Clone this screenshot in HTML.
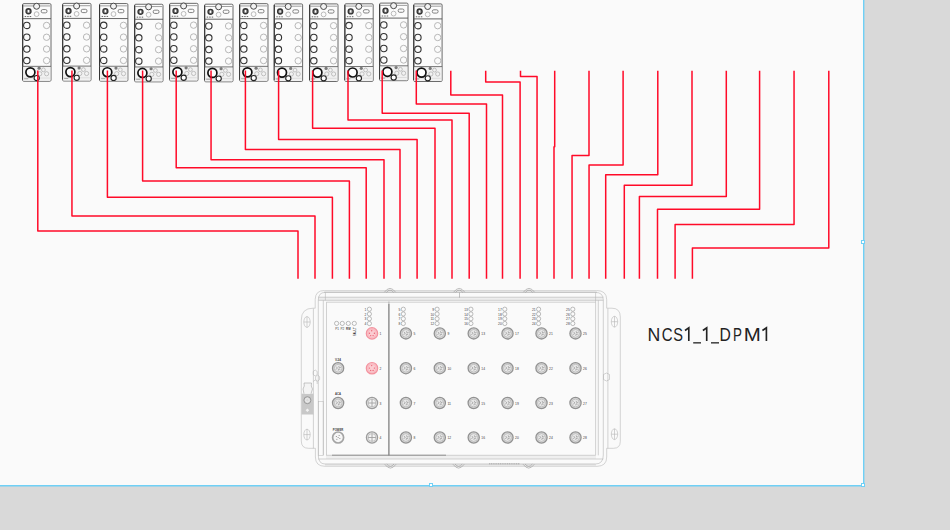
<!DOCTYPE html>
<html><head><meta charset="utf-8"><style>
html,body{margin:0;padding:0;width:950px;height:530px;overflow:hidden;background:#d9d9d9}
svg{display:block;font-family:"Liberation Sans",sans-serif}
</style></head><body>
<svg width="950" height="530" viewBox="0 0 950 530">
<defs>
<g id="mod">
 <rect x="0.4" y="0.4" width="28.4" height="77.6" rx="1.2" fill="#fbfbfb" stroke="#5a5a5a" stroke-width="0.9"/>
 <line x1="0.5" y1="1.5" x2="0.5" y2="76.5" stroke="#333" stroke-width="1.1"/>
 <rect x="1" y="63.5" width="27.2" height="14" fill="#f1f1f1"/>
 <line x1="1" y1="2.7" x2="27.8" y2="2.7" stroke="#777" stroke-width="0.7"/>
 <line x1="0.4" y1="15.4" x2="28.8" y2="15.4" stroke="#555" stroke-width="0.9"/>
 <line x1="0.4" y1="63.1" x2="28.8" y2="63.1" stroke="#666" stroke-width="0.9"/>
 <line x1="1.5" y1="74.8" x2="27.5" y2="74.8" stroke="#c8c8c8" stroke-width="0.5"/>
 <circle cx="14.4" cy="3.0" r="3.0" fill="#f2f2f2" stroke="#4a4a4a" stroke-width="1"/>
 <circle cx="6.3" cy="8.0" r="2.5" fill="#8a8a8a" stroke="#333" stroke-width="1.3"/>
 <rect x="5.7" y="6.8" width="1.2" height="2.3" fill="#fff"/>
 <circle cx="14.4" cy="10.9" r="2.4" fill="none" stroke="#aaa" stroke-width="0.8"/>
 <rect x="19" y="6.3" width="5.8" height="3.3" rx="1.5" fill="none" stroke="#666" stroke-width="0.8"/>
 <path d="M2.5 13.3h1.5M5 13.3h1.5M7.5 13.3h1.5" stroke="#555" stroke-width="0.9"/>
 <g fill="none" stroke="#333" stroke-width="1.1">
  <circle cx="4.6" cy="22.2" r="3.2"/><circle cx="4.6" cy="34.0" r="3.2"/><circle cx="4.6" cy="45.8" r="3.2"/><circle cx="4.6" cy="57.3" r="3.2"/>
 </g>
 <g fill="none" stroke="#b0b0b0" stroke-width="0.9">
  <circle cx="24.4" cy="22.2" r="3.2"/><circle cx="24.4" cy="34.0" r="3.2"/><circle cx="24.4" cy="45.8" r="3.2"/><circle cx="24.4" cy="57.3" r="3.2"/>
 </g>
 <circle cx="8.2" cy="69.1" r="4.5" fill="#fff" stroke="#111" stroke-width="1.7"/>
 <circle cx="16.9" cy="64.9" r="1.6" fill="#7a7a7a"/>
 <g fill="#f2f2f2" stroke="#aaa" stroke-width="0.7">
  <circle cx="21.2" cy="66.6" r="1.9"/><circle cx="17.6" cy="70.5" r="2.1"/><circle cx="24.4" cy="70.5" r="2.1"/>
 </g>
 <circle cx="14.5" cy="74.8" r="2.6" fill="#fff" stroke="#222" stroke-width="1.1"/>
 <path d="M2 75.5h4" stroke="#888" stroke-width="0.7"/>
</g></defs>
<rect x="0" y="0" width="950" height="530" fill="#d9d9d9"/>
<rect x="0" y="0" width="863" height="485" fill="#fafafa"/>
<use href="#mod" x="22.2" y="3.25"/><use href="#mod" x="62.2" y="3"/><use href="#mod" x="99.1" y="3.15"/><use href="#mod" x="134.2" y="3.85"/><use href="#mod" x="169.2" y="2.95"/><use href="#mod" x="204.2" y="3.8"/><use href="#mod" x="239.2" y="3.25"/><use href="#mod" x="273.8" y="3.5"/><use href="#mod" x="309.2" y="3.5"/><use href="#mod" x="344.4" y="3.4"/><use href="#mod" x="379.2" y="2.7"/><use href="#mod" x="413.3" y="3.5"/>
<g fill="none" stroke="#ff0a28" stroke-width="1.5" stroke-linejoin="round">
<path d="M37.8 70.5V231H298V278.8"/>
<path d="M71.95 70.5V215.9H315V278.8"/>
<path d="M107.4 70.5V197.2H332.4V278.8"/>
<path d="M142.6 70.5V180.9H349.4V278.8"/>
<path d="M176.2 70.5V167.8H366.2V278.8"/>
<path d="M211.05 70.5V159.65H384V278.8"/>
<path d="M245.4 70.5V149.6H400V278.8"/>
<path d="M278.6 70.5V139.5H417.1V278.8"/>
<path d="M312.6 70.5V128.3H435V278.8"/>
<path d="M348 70.5V120.05H452V278.8"/>
<path d="M382.2 70.5V113.2H469.2V278.8"/>
<path d="M416.3 70.5V103.9H486.5V278.8"/>
<path d="M450.8 70.8V95H502.5V278.8"/>
<path d="M485.7 70.8V81.95H520.1V278.8"/>
<path d="M520.5 70.8V76.45H537.05V278.8"/>
<path d="M554.7 70.8V146.8H554V278.8"/>
<path d="M589 70.8V155.5H572.05V278.8"/>
<path d="M623.1 70.8V165H589.05V278.8"/>
<path d="M657.8 70.8V174.8H605.7V278.8"/>
<path d="M692 70.8V185.35H624.3V278.8"/>
<path d="M726.3 70.8V196.5H639.4V278.8"/>
<path d="M759.6 70.8V209.3H657.5V278.8"/>
<path d="M794.05 70.8V224.4H675.1V278.8"/>
<path d="M828.8 70.8V248H692.4V278.8"/>
</g>

<path d="M324.5 290.5 H596.5 Q606.7 290.5 606.7 299.7 V308.2 H612 Q620.3 308.2 620.3 317 V441.5 Q620.3 448.3 613.5 448.3 H606.7 V457 Q606.7 466.3 597 466.3 H325 Q315.4 466.3 315.4 457 V448.3 H308.5 Q301.3 448.3 301.3 441 V320 Q301.3 308.2 313 308.2 H315.2 V299.5 Q315.2 290.5 324.5 290.5 Z" fill="#fafafa" stroke="#b8b8b8" stroke-width="0.6"/>
<rect x="324" y="290.7" width="273" height="2.3" fill="#e6e6e6"/><line x1="324" y1="292.5" x2="597" y2="292.5" stroke="#d2d2d2" stroke-width="0.7"/>
<rect x="318.3" y="297.2" width="284.5" height="3.1" fill="#ededed"/>
<rect x="325" y="463.8" width="271" height="2.3" fill="#e6e6e6"/>
<rect x="326" y="455.3" width="270" height="3.6" fill="#efefef"/>
<g fill="none" stroke="#b5b5b5" stroke-width="0.6">
 <path d="M318.3 455 V300.3 Q318.3 292.4 325 292.4 H595.4 Q603.3 292.4 603.3 300 V455 M318.3 455 Q318.3 464 325 464 H595.4 Q603.3 464 603.3 455"/>
 <path d="M318.3 297.2 H603.3 M318.3 300.3 H603.3"/>
 <path d="M326.3 302.2 H595.6 M326.5 302.2 V455.3 M595.6 292.4 V455.3 M323.3 300.3 V455.3 M598.3 300.3 V455.3 M325.4 292.4 V300.3"/>
 <path d="M326.3 455.3 H595.6 M318.3 459 H603.3"/>
 <path d="M313.4 308.5 V448.3 M607.9 308.5 V448.3"/>
 <ellipse cx="307" cy="322" rx="3.2" ry="5.4"/><path d="M303.8 322h6.4M307 316.6v10.8"/>
 <ellipse cx="307" cy="434.6" rx="3.2" ry="5.4"/><path d="M303.8 434.6h6.4M307 429.2v10.8"/>
 <ellipse cx="614.5" cy="321.7" rx="3.2" ry="5.4"/><path d="M611.3 321.7h6.4M614.5 316.3v10.8"/>
 <ellipse cx="614.5" cy="434.2" rx="3.2" ry="5.4"/><path d="M611.3 434.2h6.4M614.5 428.8v10.8"/>
 
</g>
<g fill="none" stroke="#8c8c8c" stroke-width="0.55">
 <path d="M384.4 292.2 Q390.0 284.6 395.6 292.2"/><path d="M386.4 292.4 Q390.0 287.8 393.6 292.4"/><path d="M453.6 292.2 Q459.2 284.6 464.8 292.2"/><path d="M455.6 292.4 Q459.2 287.8 462.8 292.4"/><path d="M523.4 292.2 Q529.0 284.6 534.6 292.2"/><path d="M525.4 292.4 Q529.0 287.8 532.6 292.4"/>
 <path d="M384.8 464.3 Q390.4 471.9 396.0 464.3"/><path d="M386.8 464.1 Q390.4 468.7 394.0 464.1"/><path d="M453.0 464.3 Q458.6 471.9 464.2 464.3"/><path d="M455.0 464.1 Q458.6 468.7 462.2 464.1"/><path d="M523.1 464.3 Q528.7 471.9 534.3 464.3"/><path d="M525.1 464.1 Q528.7 468.7 532.3 464.1"/>
</g>
<rect x="301.5" y="393.7" width="12.1" height="20.8" fill="#c8c8c8"/>
<path d="M304 393.7 L303 389 Q305 386 304 383 H311.5 Q310.5 386 312.5 389 L311 393.7" fill="#f4f4f4" stroke="#9a9a9a" stroke-width="0.55"/>
<circle cx="307.4" cy="400.2" r="3.5" fill="#d8d8d8" stroke="#8a8a8a" stroke-width="0.8"/>
<circle cx="307.4" cy="400.2" r="1.8" fill="none" stroke="#f0f0f0" stroke-width="0.7"/>
<path d="M307.4 408.4l1.8 1.8-1.8 1.8-1.8-1.8z" fill="#f2f2f2"/>
<path d="M313.2 371.5 l2 -1.5 2 1.5 v3 l-2 1.5 -2 -1.5z M315.6 376.6 l2 -1.5 2 1.5 v3 l-2 1.5 -2 -1.5z M313.2 381.5 l2 -1.5 2 1.5 v2.5" fill="none" stroke="#aaa" stroke-width="0.5"/>
<rect x="318.6" y="401.5" width="4.6" height="53.8" fill="none" stroke="#b5b5b5" stroke-width="0.5"/>
<path d="M603.5 374.5 l3 -1.5 3 1.5 v5 l-3 1.5 -3 -1.5z" fill="none" stroke="#aaa" stroke-width="0.5"/>
<line x1="459.5" y1="292.6" x2="459.5" y2="297.6" stroke="#888" stroke-width="0.5"/>
<line x1="388.9" y1="301.6" x2="388.9" y2="304" stroke="#bbb" stroke-width="1.2"/><line x1="388.9" y1="304" x2="388.9" y2="455.4" stroke="#777" stroke-width="1.2"/>
<line x1="332" y1="455.2" x2="446" y2="455.2" stroke="#8a8a8a" stroke-width="0.9"/>
<line x1="489" y1="463.8" x2="520" y2="463.8" stroke="#999" stroke-width="0.8" stroke-dasharray="1.2 0.6"/>
<circle cx="336.6" cy="323.4" r="2.1" fill="#fbfbfb" stroke="#7c7c7c" stroke-width="0.5"/><circle cx="342.3" cy="323.4" r="2.1" fill="#fbfbfb" stroke="#7c7c7c" stroke-width="0.5"/><circle cx="348.3" cy="323.4" r="2.1" fill="#fbfbfb" stroke="#7c7c7c" stroke-width="0.5"/><circle cx="354.3" cy="323.4" r="2.1" fill="#fbfbfb" stroke="#7c7c7c" stroke-width="0.5"/><circle cx="369.4" cy="309.2" r="2.1" fill="#fbfbfb" stroke="#7c7c7c" stroke-width="0.5"/><circle cx="369.4" cy="313.97" r="2.1" fill="#fbfbfb" stroke="#7c7c7c" stroke-width="0.5"/><circle cx="369.4" cy="318.74" r="2.1" fill="#fbfbfb" stroke="#7c7c7c" stroke-width="0.5"/><circle cx="369.4" cy="323.51" r="2.1" fill="#fbfbfb" stroke="#7c7c7c" stroke-width="0.5"/><circle cx="403.3" cy="309.2" r="2.1" fill="#fbfbfb" stroke="#7c7c7c" stroke-width="0.5"/><circle cx="403.3" cy="313.97" r="2.1" fill="#fbfbfb" stroke="#7c7c7c" stroke-width="0.5"/><circle cx="403.3" cy="318.74" r="2.1" fill="#fbfbfb" stroke="#7c7c7c" stroke-width="0.5"/><circle cx="403.3" cy="323.51" r="2.1" fill="#fbfbfb" stroke="#7c7c7c" stroke-width="0.5"/><circle cx="437.1" cy="309.2" r="2.1" fill="#fbfbfb" stroke="#7c7c7c" stroke-width="0.5"/><circle cx="437.1" cy="313.97" r="2.1" fill="#fbfbfb" stroke="#7c7c7c" stroke-width="0.5"/><circle cx="437.1" cy="318.74" r="2.1" fill="#fbfbfb" stroke="#7c7c7c" stroke-width="0.5"/><circle cx="437.1" cy="323.51" r="2.1" fill="#fbfbfb" stroke="#7c7c7c" stroke-width="0.5"/><circle cx="470.9" cy="309.2" r="2.1" fill="#fbfbfb" stroke="#7c7c7c" stroke-width="0.5"/><circle cx="470.9" cy="313.97" r="2.1" fill="#fbfbfb" stroke="#7c7c7c" stroke-width="0.5"/><circle cx="470.9" cy="318.74" r="2.1" fill="#fbfbfb" stroke="#7c7c7c" stroke-width="0.5"/><circle cx="470.9" cy="323.51" r="2.1" fill="#fbfbfb" stroke="#7c7c7c" stroke-width="0.5"/><circle cx="504.8" cy="309.2" r="2.1" fill="#fbfbfb" stroke="#7c7c7c" stroke-width="0.5"/><circle cx="504.8" cy="313.97" r="2.1" fill="#fbfbfb" stroke="#7c7c7c" stroke-width="0.5"/><circle cx="504.8" cy="318.74" r="2.1" fill="#fbfbfb" stroke="#7c7c7c" stroke-width="0.5"/><circle cx="504.8" cy="323.51" r="2.1" fill="#fbfbfb" stroke="#7c7c7c" stroke-width="0.5"/><circle cx="538.6" cy="309.2" r="2.1" fill="#fbfbfb" stroke="#7c7c7c" stroke-width="0.5"/><circle cx="538.6" cy="313.97" r="2.1" fill="#fbfbfb" stroke="#7c7c7c" stroke-width="0.5"/><circle cx="538.6" cy="318.74" r="2.1" fill="#fbfbfb" stroke="#7c7c7c" stroke-width="0.5"/><circle cx="538.6" cy="323.51" r="2.1" fill="#fbfbfb" stroke="#7c7c7c" stroke-width="0.5"/><circle cx="572.8" cy="309.2" r="2.1" fill="#fbfbfb" stroke="#7c7c7c" stroke-width="0.5"/><circle cx="572.8" cy="313.97" r="2.1" fill="#fbfbfb" stroke="#7c7c7c" stroke-width="0.5"/><circle cx="572.8" cy="318.74" r="2.1" fill="#fbfbfb" stroke="#7c7c7c" stroke-width="0.5"/><circle cx="572.8" cy="323.51" r="2.1" fill="#fbfbfb" stroke="#7c7c7c" stroke-width="0.5"/><circle cx="338.1" cy="368.2" r="5.6" fill="#d9d9d9" stroke="#929292" stroke-width="1.3"/><circle cx="338.1" cy="368.2" r="3.9" fill="#e8e8e8" stroke="#b2b2b2" stroke-width="0.7"/><path d="M336.1 366.6l1.4 1.6-1.8 1.2M338.7 366l0.6 1.8 1.6-0.4M338.3 370.6l0.4-1.6 1.6 0.4" stroke="#8a8a8a" stroke-width="0.6" fill="none"/><circle cx="338.1" cy="403" r="5.6" fill="#d9d9d9" stroke="#929292" stroke-width="1.3"/><circle cx="338.1" cy="403" r="3.9" fill="#e8e8e8" stroke="#b2b2b2" stroke-width="0.7"/><path d="M336.1 401.4l1.4 1.6-1.8 1.2M338.7 400.8l0.6 1.8 1.6-0.4M338.3 405.4l0.4-1.6 1.6 0.4" stroke="#8a8a8a" stroke-width="0.6" fill="none"/><circle cx="338.1" cy="437.5" r="5.5" fill="#f6f6f6" stroke="#a4a4a4" stroke-width="1.7"/><g fill="#777"><circle cx="336.3" cy="436.5" r="0.5"/><circle cx="339.1" cy="435.5" r="0.5"/><circle cx="338.1" cy="437.5" r="0.5"/><circle cx="336.9" cy="439.3" r="0.5"/><circle cx="339.9" cy="438.5" r="0.5"/></g><circle cx="372" cy="333.4" r="5.7" fill="#f9bfc6" stroke="#f3939f" stroke-width="1.2"/><circle cx="372" cy="333.4" r="4" fill="#fbcdd2" stroke="#f7b0b8" stroke-width="0.6"/><g fill="#ec6575"><circle cx="371.7" cy="330.8" r="0.7"/><circle cx="369.4" cy="333.3" r="0.7"/><circle cx="374.4" cy="333.3" r="0.7"/><circle cx="370.7" cy="335.6" r="0.7"/><circle cx="373.1" cy="335.6" r="0.7"/></g><circle cx="372" cy="368.2" r="5.7" fill="#f9bfc6" stroke="#f3939f" stroke-width="1.2"/><circle cx="372" cy="368.2" r="4" fill="#fbcdd2" stroke="#f7b0b8" stroke-width="0.6"/><g fill="#ec6575"><circle cx="371.7" cy="365.6" r="0.7"/><circle cx="369.4" cy="368.1" r="0.7"/><circle cx="374.4" cy="368.1" r="0.7"/><circle cx="370.7" cy="370.4" r="0.7"/><circle cx="373.1" cy="370.4" r="0.7"/></g><circle cx="372" cy="403" r="5.6" fill="#e4e4e4" stroke="#9c9c9c" stroke-width="1.3"/><circle cx="372" cy="403" r="3.9" fill="#f4f4f4" stroke="#b4b4b4" stroke-width="0.7"/><path d="M368.1 403h7.8M372 399.1v7.8" stroke="#a0a0a0" stroke-width="0.9"/><circle cx="372" cy="437.5" r="5.6" fill="#e4e4e4" stroke="#9c9c9c" stroke-width="1.3"/><circle cx="372" cy="437.5" r="3.9" fill="#f4f4f4" stroke="#b4b4b4" stroke-width="0.7"/><path d="M368.1 437.5h7.8M372 433.6v7.8" stroke="#a0a0a0" stroke-width="0.9"/><circle cx="405.9" cy="333.4" r="5.6" fill="#d9d9d9" stroke="#929292" stroke-width="1.3"/><circle cx="405.9" cy="333.4" r="3.9" fill="#e8e8e8" stroke="#b2b2b2" stroke-width="0.7"/><path d="M403.9 331.8l1.4 1.6-1.8 1.2M406.5 331.2l0.6 1.8 1.6-0.4M406.1 335.8l0.4-1.6 1.6 0.4" stroke="#8a8a8a" stroke-width="0.6" fill="none"/><circle cx="405.9" cy="368.2" r="5.6" fill="#d9d9d9" stroke="#929292" stroke-width="1.3"/><circle cx="405.9" cy="368.2" r="3.9" fill="#e8e8e8" stroke="#b2b2b2" stroke-width="0.7"/><path d="M403.9 366.6l1.4 1.6-1.8 1.2M406.5 366l0.6 1.8 1.6-0.4M406.1 370.6l0.4-1.6 1.6 0.4" stroke="#8a8a8a" stroke-width="0.6" fill="none"/><circle cx="405.9" cy="403" r="5.6" fill="#d9d9d9" stroke="#929292" stroke-width="1.3"/><circle cx="405.9" cy="403" r="3.9" fill="#e8e8e8" stroke="#b2b2b2" stroke-width="0.7"/><path d="M403.9 401.4l1.4 1.6-1.8 1.2M406.5 400.8l0.6 1.8 1.6-0.4M406.1 405.4l0.4-1.6 1.6 0.4" stroke="#8a8a8a" stroke-width="0.6" fill="none"/><circle cx="405.9" cy="437.5" r="5.6" fill="#d9d9d9" stroke="#929292" stroke-width="1.3"/><circle cx="405.9" cy="437.5" r="3.9" fill="#e8e8e8" stroke="#b2b2b2" stroke-width="0.7"/><path d="M403.9 435.9l1.4 1.6-1.8 1.2M406.5 435.3l0.6 1.8 1.6-0.4M406.1 439.9l0.4-1.6 1.6 0.4" stroke="#8a8a8a" stroke-width="0.6" fill="none"/><circle cx="439.8" cy="333.4" r="5.6" fill="#d9d9d9" stroke="#929292" stroke-width="1.3"/><circle cx="439.8" cy="333.4" r="3.9" fill="#e8e8e8" stroke="#b2b2b2" stroke-width="0.7"/><path d="M437.8 331.8l1.4 1.6-1.8 1.2M440.4 331.2l0.6 1.8 1.6-0.4M440 335.8l0.4-1.6 1.6 0.4" stroke="#8a8a8a" stroke-width="0.6" fill="none"/><circle cx="439.8" cy="368.2" r="5.6" fill="#d9d9d9" stroke="#929292" stroke-width="1.3"/><circle cx="439.8" cy="368.2" r="3.9" fill="#e8e8e8" stroke="#b2b2b2" stroke-width="0.7"/><path d="M437.8 366.6l1.4 1.6-1.8 1.2M440.4 366l0.6 1.8 1.6-0.4M440 370.6l0.4-1.6 1.6 0.4" stroke="#8a8a8a" stroke-width="0.6" fill="none"/><circle cx="439.8" cy="403" r="5.6" fill="#d9d9d9" stroke="#929292" stroke-width="1.3"/><circle cx="439.8" cy="403" r="3.9" fill="#e8e8e8" stroke="#b2b2b2" stroke-width="0.7"/><path d="M437.8 401.4l1.4 1.6-1.8 1.2M440.4 400.8l0.6 1.8 1.6-0.4M440 405.4l0.4-1.6 1.6 0.4" stroke="#8a8a8a" stroke-width="0.6" fill="none"/><circle cx="439.8" cy="437.5" r="5.6" fill="#d9d9d9" stroke="#929292" stroke-width="1.3"/><circle cx="439.8" cy="437.5" r="3.9" fill="#e8e8e8" stroke="#b2b2b2" stroke-width="0.7"/><path d="M437.8 435.9l1.4 1.6-1.8 1.2M440.4 435.3l0.6 1.8 1.6-0.4M440 439.9l0.4-1.6 1.6 0.4" stroke="#8a8a8a" stroke-width="0.6" fill="none"/><circle cx="473.7" cy="333.4" r="5.6" fill="#d9d9d9" stroke="#929292" stroke-width="1.3"/><circle cx="473.7" cy="333.4" r="3.9" fill="#e8e8e8" stroke="#b2b2b2" stroke-width="0.7"/><path d="M471.7 331.8l1.4 1.6-1.8 1.2M474.3 331.2l0.6 1.8 1.6-0.4M473.9 335.8l0.4-1.6 1.6 0.4" stroke="#8a8a8a" stroke-width="0.6" fill="none"/><circle cx="473.7" cy="368.2" r="5.6" fill="#d9d9d9" stroke="#929292" stroke-width="1.3"/><circle cx="473.7" cy="368.2" r="3.9" fill="#e8e8e8" stroke="#b2b2b2" stroke-width="0.7"/><path d="M471.7 366.6l1.4 1.6-1.8 1.2M474.3 366l0.6 1.8 1.6-0.4M473.9 370.6l0.4-1.6 1.6 0.4" stroke="#8a8a8a" stroke-width="0.6" fill="none"/><circle cx="473.7" cy="403" r="5.6" fill="#d9d9d9" stroke="#929292" stroke-width="1.3"/><circle cx="473.7" cy="403" r="3.9" fill="#e8e8e8" stroke="#b2b2b2" stroke-width="0.7"/><path d="M471.7 401.4l1.4 1.6-1.8 1.2M474.3 400.8l0.6 1.8 1.6-0.4M473.9 405.4l0.4-1.6 1.6 0.4" stroke="#8a8a8a" stroke-width="0.6" fill="none"/><circle cx="473.7" cy="437.5" r="5.6" fill="#d9d9d9" stroke="#929292" stroke-width="1.3"/><circle cx="473.7" cy="437.5" r="3.9" fill="#e8e8e8" stroke="#b2b2b2" stroke-width="0.7"/><path d="M471.7 435.9l1.4 1.6-1.8 1.2M474.3 435.3l0.6 1.8 1.6-0.4M473.9 439.9l0.4-1.6 1.6 0.4" stroke="#8a8a8a" stroke-width="0.6" fill="none"/><circle cx="507.5" cy="333.4" r="5.6" fill="#d9d9d9" stroke="#929292" stroke-width="1.3"/><circle cx="507.5" cy="333.4" r="3.9" fill="#e8e8e8" stroke="#b2b2b2" stroke-width="0.7"/><path d="M505.5 331.8l1.4 1.6-1.8 1.2M508.1 331.2l0.6 1.8 1.6-0.4M507.7 335.8l0.4-1.6 1.6 0.4" stroke="#8a8a8a" stroke-width="0.6" fill="none"/><circle cx="507.5" cy="368.2" r="5.6" fill="#d9d9d9" stroke="#929292" stroke-width="1.3"/><circle cx="507.5" cy="368.2" r="3.9" fill="#e8e8e8" stroke="#b2b2b2" stroke-width="0.7"/><path d="M505.5 366.6l1.4 1.6-1.8 1.2M508.1 366l0.6 1.8 1.6-0.4M507.7 370.6l0.4-1.6 1.6 0.4" stroke="#8a8a8a" stroke-width="0.6" fill="none"/><circle cx="507.5" cy="403" r="5.6" fill="#d9d9d9" stroke="#929292" stroke-width="1.3"/><circle cx="507.5" cy="403" r="3.9" fill="#e8e8e8" stroke="#b2b2b2" stroke-width="0.7"/><path d="M505.5 401.4l1.4 1.6-1.8 1.2M508.1 400.8l0.6 1.8 1.6-0.4M507.7 405.4l0.4-1.6 1.6 0.4" stroke="#8a8a8a" stroke-width="0.6" fill="none"/><circle cx="507.5" cy="437.5" r="5.6" fill="#d9d9d9" stroke="#929292" stroke-width="1.3"/><circle cx="507.5" cy="437.5" r="3.9" fill="#e8e8e8" stroke="#b2b2b2" stroke-width="0.7"/><path d="M505.5 435.9l1.4 1.6-1.8 1.2M508.1 435.3l0.6 1.8 1.6-0.4M507.7 439.9l0.4-1.6 1.6 0.4" stroke="#8a8a8a" stroke-width="0.6" fill="none"/><circle cx="541.5" cy="333.4" r="5.6" fill="#d9d9d9" stroke="#929292" stroke-width="1.3"/><circle cx="541.5" cy="333.4" r="3.9" fill="#e8e8e8" stroke="#b2b2b2" stroke-width="0.7"/><path d="M539.5 331.8l1.4 1.6-1.8 1.2M542.1 331.2l0.6 1.8 1.6-0.4M541.7 335.8l0.4-1.6 1.6 0.4" stroke="#8a8a8a" stroke-width="0.6" fill="none"/><circle cx="541.5" cy="368.2" r="5.6" fill="#d9d9d9" stroke="#929292" stroke-width="1.3"/><circle cx="541.5" cy="368.2" r="3.9" fill="#e8e8e8" stroke="#b2b2b2" stroke-width="0.7"/><path d="M539.5 366.6l1.4 1.6-1.8 1.2M542.1 366l0.6 1.8 1.6-0.4M541.7 370.6l0.4-1.6 1.6 0.4" stroke="#8a8a8a" stroke-width="0.6" fill="none"/><circle cx="541.5" cy="403" r="5.6" fill="#d9d9d9" stroke="#929292" stroke-width="1.3"/><circle cx="541.5" cy="403" r="3.9" fill="#e8e8e8" stroke="#b2b2b2" stroke-width="0.7"/><path d="M539.5 401.4l1.4 1.6-1.8 1.2M542.1 400.8l0.6 1.8 1.6-0.4M541.7 405.4l0.4-1.6 1.6 0.4" stroke="#8a8a8a" stroke-width="0.6" fill="none"/><circle cx="541.5" cy="437.5" r="5.6" fill="#d9d9d9" stroke="#929292" stroke-width="1.3"/><circle cx="541.5" cy="437.5" r="3.9" fill="#e8e8e8" stroke="#b2b2b2" stroke-width="0.7"/><path d="M539.5 435.9l1.4 1.6-1.8 1.2M542.1 435.3l0.6 1.8 1.6-0.4M541.7 439.9l0.4-1.6 1.6 0.4" stroke="#8a8a8a" stroke-width="0.6" fill="none"/><circle cx="575.5" cy="333.4" r="5.6" fill="#d9d9d9" stroke="#929292" stroke-width="1.3"/><circle cx="575.5" cy="333.4" r="3.9" fill="#e8e8e8" stroke="#b2b2b2" stroke-width="0.7"/><path d="M573.5 331.8l1.4 1.6-1.8 1.2M576.1 331.2l0.6 1.8 1.6-0.4M575.7 335.8l0.4-1.6 1.6 0.4" stroke="#8a8a8a" stroke-width="0.6" fill="none"/><circle cx="575.5" cy="368.2" r="5.6" fill="#d9d9d9" stroke="#929292" stroke-width="1.3"/><circle cx="575.5" cy="368.2" r="3.9" fill="#e8e8e8" stroke="#b2b2b2" stroke-width="0.7"/><path d="M573.5 366.6l1.4 1.6-1.8 1.2M576.1 366l0.6 1.8 1.6-0.4M575.7 370.6l0.4-1.6 1.6 0.4" stroke="#8a8a8a" stroke-width="0.6" fill="none"/><circle cx="575.5" cy="403" r="5.6" fill="#d9d9d9" stroke="#929292" stroke-width="1.3"/><circle cx="575.5" cy="403" r="3.9" fill="#e8e8e8" stroke="#b2b2b2" stroke-width="0.7"/><path d="M573.5 401.4l1.4 1.6-1.8 1.2M576.1 400.8l0.6 1.8 1.6-0.4M575.7 405.4l0.4-1.6 1.6 0.4" stroke="#8a8a8a" stroke-width="0.6" fill="none"/><circle cx="575.5" cy="437.5" r="5.6" fill="#d9d9d9" stroke="#929292" stroke-width="1.3"/><circle cx="575.5" cy="437.5" r="3.9" fill="#e8e8e8" stroke="#b2b2b2" stroke-width="0.7"/><path d="M573.5 435.9l1.4 1.6-1.8 1.2M576.1 435.3l0.6 1.8 1.6-0.4M575.7 439.9l0.4-1.6 1.6 0.4" stroke="#8a8a8a" stroke-width="0.6" fill="none"/>
<g fill="#3c3c3c"><text x="366.4" y="310.8" text-anchor="end" font-size="4.4" textLength="1.85" lengthAdjust="spacingAndGlyphs">1</text><text x="366.4" y="315.57" text-anchor="end" font-size="4.4" textLength="1.85" lengthAdjust="spacingAndGlyphs">2</text><text x="366.4" y="320.34" text-anchor="end" font-size="4.4" textLength="1.85" lengthAdjust="spacingAndGlyphs">3</text><text x="366.4" y="325.11" text-anchor="end" font-size="4.4" textLength="1.85" lengthAdjust="spacingAndGlyphs">4</text><text x="400.3" y="310.8" text-anchor="end" font-size="4.4" textLength="1.85" lengthAdjust="spacingAndGlyphs">5</text><text x="400.3" y="315.57" text-anchor="end" font-size="4.4" textLength="1.85" lengthAdjust="spacingAndGlyphs">6</text><text x="400.3" y="320.34" text-anchor="end" font-size="4.4" textLength="1.85" lengthAdjust="spacingAndGlyphs">7</text><text x="400.3" y="325.11" text-anchor="end" font-size="4.4" textLength="1.85" lengthAdjust="spacingAndGlyphs">8</text><text x="434.1" y="310.8" text-anchor="end" font-size="4.4" textLength="1.85" lengthAdjust="spacingAndGlyphs">9</text><text x="434.1" y="315.57" text-anchor="end" font-size="4.4" textLength="3.7" lengthAdjust="spacingAndGlyphs">10</text><text x="434.1" y="320.34" text-anchor="end" font-size="4.4" textLength="3.7" lengthAdjust="spacingAndGlyphs">11</text><text x="434.1" y="325.11" text-anchor="end" font-size="4.4" textLength="3.7" lengthAdjust="spacingAndGlyphs">12</text><text x="467.9" y="310.8" text-anchor="end" font-size="4.4" textLength="3.7" lengthAdjust="spacingAndGlyphs">13</text><text x="467.9" y="315.57" text-anchor="end" font-size="4.4" textLength="3.7" lengthAdjust="spacingAndGlyphs">14</text><text x="467.9" y="320.34" text-anchor="end" font-size="4.4" textLength="3.7" lengthAdjust="spacingAndGlyphs">15</text><text x="467.9" y="325.11" text-anchor="end" font-size="4.4" textLength="3.7" lengthAdjust="spacingAndGlyphs">16</text><text x="501.8" y="310.8" text-anchor="end" font-size="4.4" textLength="3.7" lengthAdjust="spacingAndGlyphs">17</text><text x="501.8" y="315.57" text-anchor="end" font-size="4.4" textLength="3.7" lengthAdjust="spacingAndGlyphs">18</text><text x="501.8" y="320.34" text-anchor="end" font-size="4.4" textLength="3.7" lengthAdjust="spacingAndGlyphs">19</text><text x="501.8" y="325.11" text-anchor="end" font-size="4.4" textLength="3.7" lengthAdjust="spacingAndGlyphs">20</text><text x="535.6" y="310.8" text-anchor="end" font-size="4.4" textLength="3.7" lengthAdjust="spacingAndGlyphs">21</text><text x="535.6" y="315.57" text-anchor="end" font-size="4.4" textLength="3.7" lengthAdjust="spacingAndGlyphs">22</text><text x="535.6" y="320.34" text-anchor="end" font-size="4.4" textLength="3.7" lengthAdjust="spacingAndGlyphs">23</text><text x="535.6" y="325.11" text-anchor="end" font-size="4.4" textLength="3.7" lengthAdjust="spacingAndGlyphs">24</text><text x="569.8" y="310.8" text-anchor="end" font-size="4.4" textLength="3.7" lengthAdjust="spacingAndGlyphs">25</text><text x="569.8" y="315.57" text-anchor="end" font-size="4.4" textLength="3.7" lengthAdjust="spacingAndGlyphs">26</text><text x="569.8" y="320.34" text-anchor="end" font-size="4.4" textLength="3.7" lengthAdjust="spacingAndGlyphs">27</text><text x="569.8" y="325.11" text-anchor="end" font-size="4.4" textLength="3.7" lengthAdjust="spacingAndGlyphs">28</text><text x="337" y="330.2" text-anchor="middle" font-size="4.2" textLength="3.7" lengthAdjust="spacingAndGlyphs">P1</text><text x="342.4" y="330.2" text-anchor="middle" font-size="4.2" textLength="3.7" lengthAdjust="spacingAndGlyphs">P2</text><text x="348.3" y="330.2" text-anchor="middle" font-size="4.2" font-weight="bold" textLength="4.4" lengthAdjust="spacingAndGlyphs">RM</text><text transform="translate(355.6 327.3) rotate(-90)" text-anchor="end" font-size="4" font-weight="bold" textLength="8.8" lengthAdjust="spacingAndGlyphs">FAULT</text><text x="338" y="360.7" text-anchor="middle" font-size="4.4" font-weight="bold" textLength="6" lengthAdjust="spacingAndGlyphs">V.24</text><text x="338" y="395.4" text-anchor="middle" font-size="4.4" font-weight="bold" textLength="6" lengthAdjust="spacingAndGlyphs">ACA</text><text x="338.1" y="430.7" text-anchor="middle" font-size="4.4" font-weight="bold" textLength="10.5" lengthAdjust="spacingAndGlyphs">POWER</text><text x="379.6" y="335" text-anchor="start" font-size="4.4" textLength="1.85" lengthAdjust="spacingAndGlyphs">1</text><text x="379.6" y="369.8" text-anchor="start" font-size="4.4" textLength="1.85" lengthAdjust="spacingAndGlyphs">2</text><text x="379.6" y="404.6" text-anchor="start" font-size="4.4" textLength="1.85" lengthAdjust="spacingAndGlyphs">3</text><text x="379.6" y="439.1" text-anchor="start" font-size="4.4" textLength="1.85" lengthAdjust="spacingAndGlyphs">4</text><text x="413.5" y="335" text-anchor="start" font-size="4.4" textLength="1.85" lengthAdjust="spacingAndGlyphs">5</text><text x="413.5" y="369.8" text-anchor="start" font-size="4.4" textLength="1.85" lengthAdjust="spacingAndGlyphs">6</text><text x="413.5" y="404.6" text-anchor="start" font-size="4.4" textLength="1.85" lengthAdjust="spacingAndGlyphs">7</text><text x="413.5" y="439.1" text-anchor="start" font-size="4.4" textLength="1.85" lengthAdjust="spacingAndGlyphs">8</text><text x="447.4" y="335" text-anchor="start" font-size="4.4" textLength="1.85" lengthAdjust="spacingAndGlyphs">9</text><text x="447.4" y="369.8" text-anchor="start" font-size="4.4" textLength="3.7" lengthAdjust="spacingAndGlyphs">10</text><text x="447.4" y="404.6" text-anchor="start" font-size="4.4" textLength="3.7" lengthAdjust="spacingAndGlyphs">11</text><text x="447.4" y="439.1" text-anchor="start" font-size="4.4" textLength="3.7" lengthAdjust="spacingAndGlyphs">12</text><text x="481.3" y="335" text-anchor="start" font-size="4.4" textLength="3.7" lengthAdjust="spacingAndGlyphs">13</text><text x="481.3" y="369.8" text-anchor="start" font-size="4.4" textLength="3.7" lengthAdjust="spacingAndGlyphs">14</text><text x="481.3" y="404.6" text-anchor="start" font-size="4.4" textLength="3.7" lengthAdjust="spacingAndGlyphs">15</text><text x="481.3" y="439.1" text-anchor="start" font-size="4.4" textLength="3.7" lengthAdjust="spacingAndGlyphs">16</text><text x="515.1" y="335" text-anchor="start" font-size="4.4" textLength="3.7" lengthAdjust="spacingAndGlyphs">17</text><text x="515.1" y="369.8" text-anchor="start" font-size="4.4" textLength="3.7" lengthAdjust="spacingAndGlyphs">18</text><text x="515.1" y="404.6" text-anchor="start" font-size="4.4" textLength="3.7" lengthAdjust="spacingAndGlyphs">19</text><text x="515.1" y="439.1" text-anchor="start" font-size="4.4" textLength="3.7" lengthAdjust="spacingAndGlyphs">20</text><text x="549.1" y="335" text-anchor="start" font-size="4.4" textLength="3.7" lengthAdjust="spacingAndGlyphs">21</text><text x="549.1" y="369.8" text-anchor="start" font-size="4.4" textLength="3.7" lengthAdjust="spacingAndGlyphs">22</text><text x="549.1" y="404.6" text-anchor="start" font-size="4.4" textLength="3.7" lengthAdjust="spacingAndGlyphs">23</text><text x="549.1" y="439.1" text-anchor="start" font-size="4.4" textLength="3.7" lengthAdjust="spacingAndGlyphs">24</text><text x="583.1" y="335" text-anchor="start" font-size="4.4" textLength="3.7" lengthAdjust="spacingAndGlyphs">25</text><text x="583.1" y="369.8" text-anchor="start" font-size="4.4" textLength="3.7" lengthAdjust="spacingAndGlyphs">26</text><text x="583.1" y="404.6" text-anchor="start" font-size="4.4" textLength="3.7" lengthAdjust="spacingAndGlyphs">27</text><text x="583.1" y="439.1" text-anchor="start" font-size="4.4" textLength="3.7" lengthAdjust="spacingAndGlyphs">28</text></g>
<g fill="#222"><text transform="translate(647.55 340.9) scale(0.931 1)" font-size="19.04">N</text><text transform="translate(661.74 340.9) scale(0.788 1)" font-size="19.04">C</text><text transform="translate(673.24 340.9) scale(0.766 1)" font-size="19.04">S</text><rect x="693.20" y="342.2" width="7.80" height="1.3"/><rect x="711.00" y="342.2" width="8.00" height="1.3"/><text transform="translate(719.61 340.9) scale(0.825 1)" font-size="19.04">D</text><text transform="translate(733.01 340.9) scale(0.701 1)" font-size="19.04">P</text><text transform="translate(743.72 340.9) scale(1.076 1)" font-size="19.04">M</text></g><path d="M688.80 340.9V327.8L685.00 330.5M706.70 340.9V327.8L702.90 330.5M766.40 340.9V327.8L762.40 330.5" fill="none" stroke="#222" stroke-width="1.65"/>
<g>
<line x1="0" y1="485.7" x2="864.4" y2="485.7" stroke="#6fd0f6" stroke-width="1.4"/>
<line x1="863.7" y1="0" x2="863.7" y2="486.4" stroke="#6fd0f6" stroke-width="1.4"/>
<rect x="861.5" y="483.5" width="3" height="3" fill="#fff" stroke="#6fd0f6" stroke-width="1"/>
<rect x="429.5" y="483.5" width="3" height="3" fill="#fff" stroke="#6fd0f6" stroke-width="1"/>
<rect x="861.5" y="240.5" width="3" height="3" fill="#fff" stroke="#6fd0f6" stroke-width="1"/>
</g>
</svg>
</body></html>
